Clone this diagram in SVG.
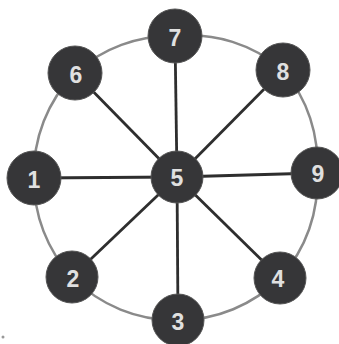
<svg xmlns="http://www.w3.org/2000/svg" width="339" height="344" viewBox="0 0 339 344">
<style>
.ring{fill:none;stroke:#8a8a8a;stroke-width:2.5}
.spoke{stroke:#2e2e2e;stroke-width:2.8}
.node circle{fill:#363638;stroke:#555;stroke-width:1}
.node text{font-family:"Liberation Sans",Arial,sans-serif;font-weight:bold;font-size:23px;fill:#e0e0e0;text-anchor:middle;dominant-baseline:central}
</style>
<rect width="339" height="344" fill="#ffffff"/>
<g id="connectors">
<path class="ring" d="M175,36 A143,143 0 0 1 283,70 A143,143 0 0 1 317,173 A143,143 0 0 1 280,278 A143,143 0 0 1 178,320 A143,143 0 0 1 72,277 A143,143 0 0 1 34,178 A143,143 0 0 1 75,73 A143,143 0 0 1 175,36 Z"/>
<line class="spoke" x1="177" y1="177" x2="175" y2="36"/>
<line class="spoke" x1="177" y1="177" x2="283" y2="70"/>
<line class="spoke" x1="177" y1="177" x2="317" y2="173"/>
<line class="spoke" x1="177" y1="177" x2="280" y2="278"/>
<line class="spoke" x1="177" y1="177" x2="178" y2="320"/>
<line class="spoke" x1="177" y1="177" x2="72" y2="277"/>
<line class="spoke" x1="177" y1="177" x2="34" y2="178"/>
<line class="spoke" x1="177" y1="177" x2="75" y2="73"/>
</g>
<g id="node5" class="node"><circle cx="177" cy="177" r="26"/><text x="177" y="178">5</text></g>
<g id="node7" class="node"><circle cx="175" cy="36" r="27"/><text x="175" y="38">7</text></g>
<g id="node8" class="node"><circle cx="283" cy="70" r="27"/><text x="283" y="72">8</text></g>
<g id="node9" class="node"><circle cx="317" cy="173" r="26"/><text x="318" y="174">9</text></g>
<g id="node4" class="node"><circle cx="280" cy="278" r="26"/><text x="278" y="279">4</text></g>
<g id="node3" class="node"><circle cx="178" cy="320" r="26"/><text x="178" y="322">3</text></g>
<g id="node2" class="node"><circle cx="72" cy="277" r="26"/><text x="73" y="279">2</text></g>
<g id="node1" class="node"><circle cx="34" cy="178" r="27"/><text x="34" y="180">1</text></g>
<g id="node6" class="node"><circle cx="75" cy="73" r="27"/><text x="76" y="75">6</text></g>
<circle cx="3" cy="337" r="1.5" fill="#999"/>
</svg>
